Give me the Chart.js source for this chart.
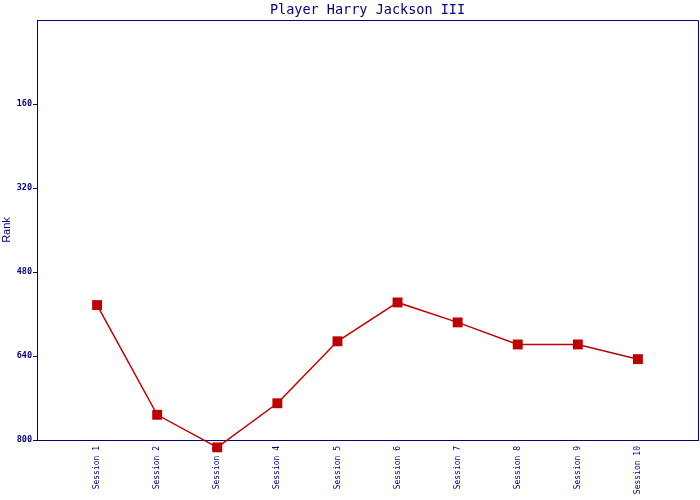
<!DOCTYPE html>
<html>
<head>
<meta charset="utf-8">
<script src="https://cdn.jsdelivr.net/npm/chart.js@4"></script>
<style>
  html, body { margin: 0; padding: 0; background: #fff; overflow: hidden; }
  #wrap { width: 700px; height: 500px; position: relative; }
</style>
</head>
<body>
<div id="wrap"><canvas id="c"></canvas></div>
<script>
const titleText = 'Player Harry Jackson III';
const yAxisTitle = 'Rank';
const sessions = ['Session 1','Session 2','Session 3','Session 4','Session 5','Session 6','Session 7','Session 8','Session 9','Session 10'];
const ranks = [543, 752, 814, 730, 612, 538, 576, 618, 618, 646];
const yTicks = [160, 320, 480, 640, 800];

const NAVY = '#000080';
const RED = '#C00000';

const boxPlugin = {
  id: 'box',
  afterDraw(chart) {
    const a = chart.chartArea, ctx = chart.ctx;
    ctx.save();
    ctx.strokeStyle = NAVY;
    ctx.lineWidth = 1;
    ctx.beginPath();
    ctx.moveTo(Math.round(a.left) + 0.5, Math.round(a.top) + 0.5);
    ctx.lineTo(Math.round(a.right) + 0.5, Math.round(a.top) + 0.5);
    ctx.lineTo(Math.round(a.right) + 0.5, Math.round(a.bottom) + 0.5);
    ctx.stroke();
    ctx.restore();
  }
};

new Chart(document.getElementById('c'), {
  type: 'line',
  data: {
    datasets: [{
      data: sessions.map((s, i) => ({ x: i + 1, y: ranks[i] })),
      borderColor: RED,
      backgroundColor: RED,
      borderWidth: 1.5,
      pointStyle: 'rect',
      pointRadius: 7,
      pointHoverRadius: 14,
      pointBorderWidth: 0,
      tension: 0,
      clip: false
    }]
  },
  options: {
    responsive: true,
    maintainAspectRatio: false,
    animation: false,
    events: [],
    layout: { autoPadding: false, padding: { left: 0, right: 2, top: 0, bottom: 0 } },
    plugins: {
      legend: { display: false },
      tooltip: { enabled: false },
      title: {
        display: true,
        text: titleText,
        color: NAVY,
        fullSize: false,
        font: { family: 'DejaVu Sans Mono', size: 13.5, weight: 'normal', lineHeight: '17px' },
        padding: { top: 2, bottom: 1 }
      }
    },
    scales: {
      x: {
        type: 'linear',
        min: 0,
        max: 11,
        afterFit(s) { s.height = 60; s.paddingLeft = 0; s.paddingRight = 0; },
        afterBuildTicks(s) {
          s.ticks = [];
          for (let i = 0; i <= sessions.length + 1; i++) s.ticks.push({ value: i });
        },
        ticks: {
          autoSkip: false,
          maxRotation: 90,
          minRotation: 90,
          padding: 6,
          color: NAVY,
          font: { family: 'DejaVu Sans Mono', size: 8 },
          callback: (v) => sessions[v - 1] || ''
        },
        grid: { display: false, drawTicks: false },
        border: { display: true, color: NAVY, width: 1 }
      },
      y: {
        reverse: true,
        min: 0,
        max: 800,
        afterFit(s) { s.width = 37; s.paddingTop = 0; s.paddingBottom = 0; },
        afterBuildTicks(s) {
          s.ticks = [{ value: 0 }].concat(yTicks.map(v => ({ value: v })));
        },
        ticks: {
          color: NAVY,
          padding: 1,
          font: { family: 'DejaVu Sans Mono', size: 8.5, weight: 'bold' },
          callback: (v) => (v === 0 ? '' : String(v))
        },
        grid: {
          drawOnChartArea: false,
          drawTicks: true,
          tickLength: 4,
          color: (c) => (c.tick && c.tick.value === 0 ? 'rgba(0,0,0,0)' : NAVY)
        },
        border: { display: true, color: NAVY, width: 1 },
        title: {
          display: true,
          text: yAxisTitle,
          color: NAVY,
          font: { family: 'Liberation Sans', size: 11 },
          padding: { top: 0, bottom: 0 }
        }
      }
    }
  },
  plugins: [boxPlugin]
});
</script>
</body>
</html>
